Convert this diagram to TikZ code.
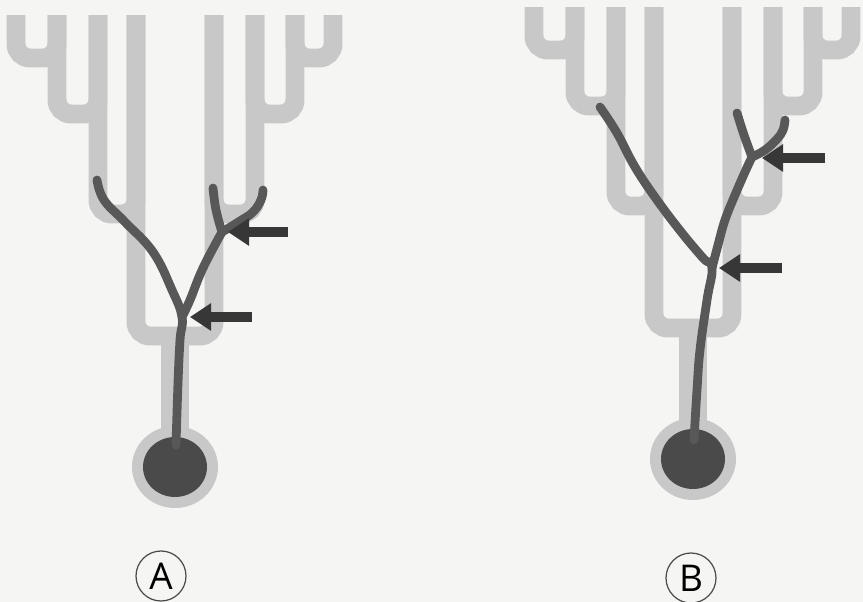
\documentclass[tikz,border=0pt]{standalone}
\usepackage{fontspec}
\setmainfont{Open Sans}
\usetikzlibrary{arrows.meta}
\definecolor{fond}{RGB}{245,245,243}
\definecolor{guide}{RGB}{200,200,200}
\definecolor{neur}{RGB}{88,88,88}
\definecolor{corps}{RGB}{74,74,74}
\definecolor{fleche}{RGB}{55,55,55}
\begin{document}
\begin{tikzpicture}[x = 0.02cm, y = -0.02cm,
    scaffold/.style = {guide, line width = 10.8pt, rounded corners = 8pt},
    neurite/.style = {neur, line width = 5pt, line cap = round},
    pointer/.style = {fleche, line width = 5.6pt, -{Triangle[length = 12pt, width = 15pt]}},
    lettre/.style = {circle, draw = black!70, line width = 0.7pt, minimum size = 1cm, inner sep = 0pt, font = \fontsize{21}{21}\selectfont}]
  \useasboundingbox (0,0) rectangle (863,602);
  \fill[fond] (0,0) rectangle (863,602);

  % arbre guide gris + soma, le meme pour A et B
  \foreach \dx/\dy in {0/0, 518/-8} {
    \begin{scope}[shift = {(\dx,\dy)}]
      \foreach \xa/\yb/\xb in {16/58/57, 57/114/98, 98/214/136, 136/336/214, 214/214/255, 255/114/295, 295/58/333}
        \draw[scaffold] (\xa,15) -- (\xa,\yb) -- (\xb,\yb) -- (\xb,15);
      \draw[guide, line width = 15.9pt] (175,336) -- (175,440);
      \fill[guide] (175,467) ellipse [x radius = 43, y radius = 41];
      \fill[corps] (175,467) ellipse [x radius = 32, y radius = 30];
    \end{scope}
  }

  % neurite A
  \coordinate (brA1) at (182,317);
  \coordinate (brA2) at (222,232);
  \draw[neurite] plot[smooth, tension = 0.7] coordinates {(176,445) (178,383) (180,340) (brA1) (172,290) (153,252) (125,222) (104,200) (97,180)};
  \draw[neurite] plot[smooth, tension = 0.7] coordinates {(brA1) (190,300) (203,268) (brA2)};
  \draw[neurite] plot[smooth, tension = 0.7] coordinates {(brA2) (216,210) (213,188)};
  \draw[neurite] plot[smooth, tension = 0.7] coordinates {(brA2) (240,221) (253,212) (261,200) (263,190)};

  % neurite B
  \coordinate (brB1) at (712,268);
  \coordinate (brB2) at (752,157);
  \draw[neurite] plot[smooth, tension = 0.7] coordinates {(694,440) (697,390) (700,350) (707,300) (brB1) (703,258) (682,233) (657,200) (635,167) (617,133) (600,107)};
  \draw[neurite] plot[smooth, tension = 0.7] coordinates {(brB1) (718,245) (725,220) (735,195) (745,172) (brB2)};
  \draw[neurite] plot[smooth, tension = 0.7] coordinates {(brB2) (744,135) (737,113)};
  \draw[neurite] plot[smooth, tension = 0.7] coordinates {(brB2) (765,150) (777,139) (783,130) (785,120)};

  % fleches vers les embranchements
  \coordinate (pA1) at (190,317);
  \coordinate (qA1) at (252,317);
  \coordinate (pA2) at (228,232);
  \coordinate (qA2) at (288,232);
  \coordinate (pB1) at (719,268);
  \coordinate (qB1) at (782,268);
  \coordinate (pB2) at (762,158);
  \coordinate (qB2) at (825,158);
  \foreach \p/\q in {pA1/qA1, pA2/qA2, pB1/qB1, pB2/qB2}
    \draw[pointer] (\q) -- (\p);

  \node[lettre] (lblA) at (161,576) {A};
  \node[lettre] (lblB) at (691,578) {B};
\end{tikzpicture}
\end{document}
